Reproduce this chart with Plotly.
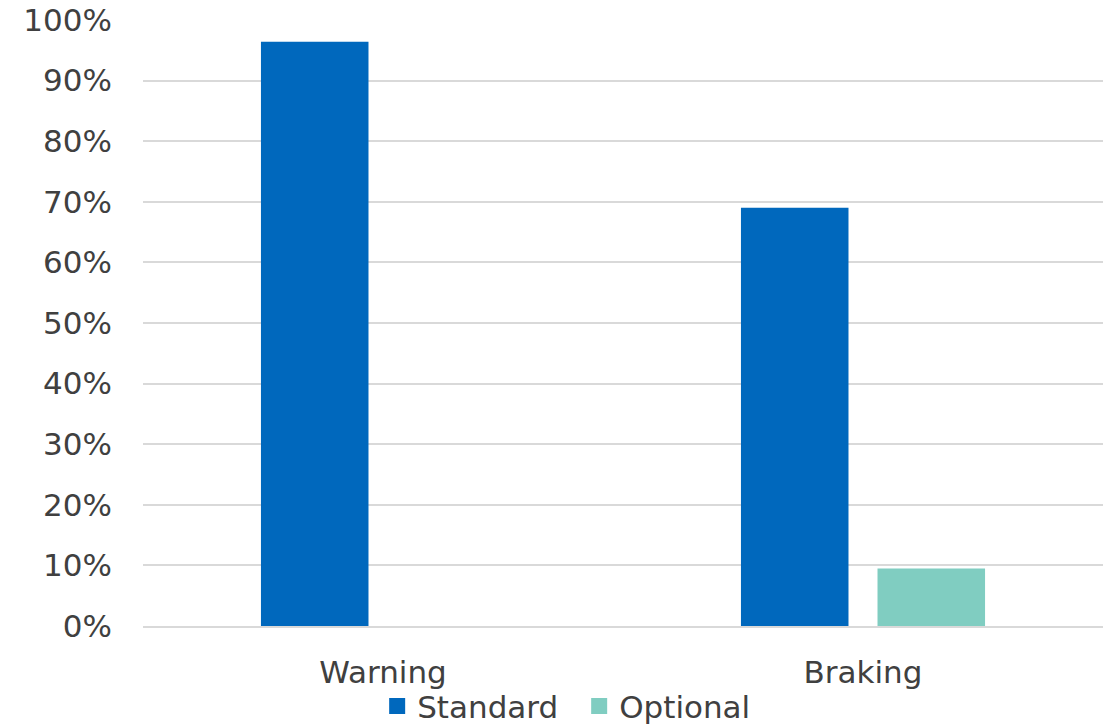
import plotly.graph_objects as go

categories = ["Warning", "Braking"]
standard = [0.964, 0.690]
optional = [None, 0.095]
y_ticks = [0, 0.1, 0.2, 0.3, 0.4, 0.5, 0.6, 0.7, 0.8, 0.9, 1.0]
y_tick_labels = ["0%", "10%", "20%", "30%", "40%", "50%", "60%", "70%", "80%", "90%", "100%"]

BLUE = "#0068bd"
TEAL = "#80cdc1"
TEXT = "#404040"
GRID = "#d9d9d9"
FONT = "DejaVu Sans"

fig = go.Figure()
fig.add_trace(go.Bar(x=categories, y=standard, name="Standard",
                     marker=dict(color=BLUE, line=dict(width=0)), showlegend=False))
fig.add_trace(go.Bar(x=categories, y=optional, name="Optional",
                     marker=dict(color=TEAL, line=dict(width=0)), showlegend=False))

# legend entries drawn as large square swatches
for name, color in [("Standard", BLUE), ("Optional", TEAL)]:
    fig.add_trace(go.Scatter(x=[None], y=[None], mode="markers", name=name,
                             marker=dict(symbol="square", size=19, color=color)))

fig.update_layout(
    width=1117, height=726,
    margin=dict(l=143, r=14, t=19, b=100, autoexpand=False),
    paper_bgcolor="white", plot_bgcolor="white",
    font=dict(family=FONT, size=31, color=TEXT),
    barmode="group", bargap=0.431, bargroupgap=0.2125,
    showlegend=True,
    legend=dict(orientation="h", xref="container", yref="container",
                x=0.5185, xanchor="center", y=0.027, yanchor="middle",
                font=dict(size=31, color=TEXT), itemwidth=30,
                entrywidth=157, tracegroupgap=0, bgcolor="rgba(0,0,0,0)"),
)
fig.update_xaxes(showgrid=False, showline=True, linecolor=GRID, linewidth=1.5,
                 ticks="", automargin=False, ticklabelstandoff=18,
                 tickfont=dict(size=31, color=TEXT))
fig.update_yaxes(range=[0, 1.0015], tickvals=y_ticks, ticktext=y_tick_labels,
                 showgrid=True, gridcolor=GRID, gridwidth=1.5,
                 zeroline=False, showline=False, ticks="", automargin=False,
                 ticklabelstandoff=30, tickfont=dict(size=31, color=TEXT))

fig.write_html("out.html")
